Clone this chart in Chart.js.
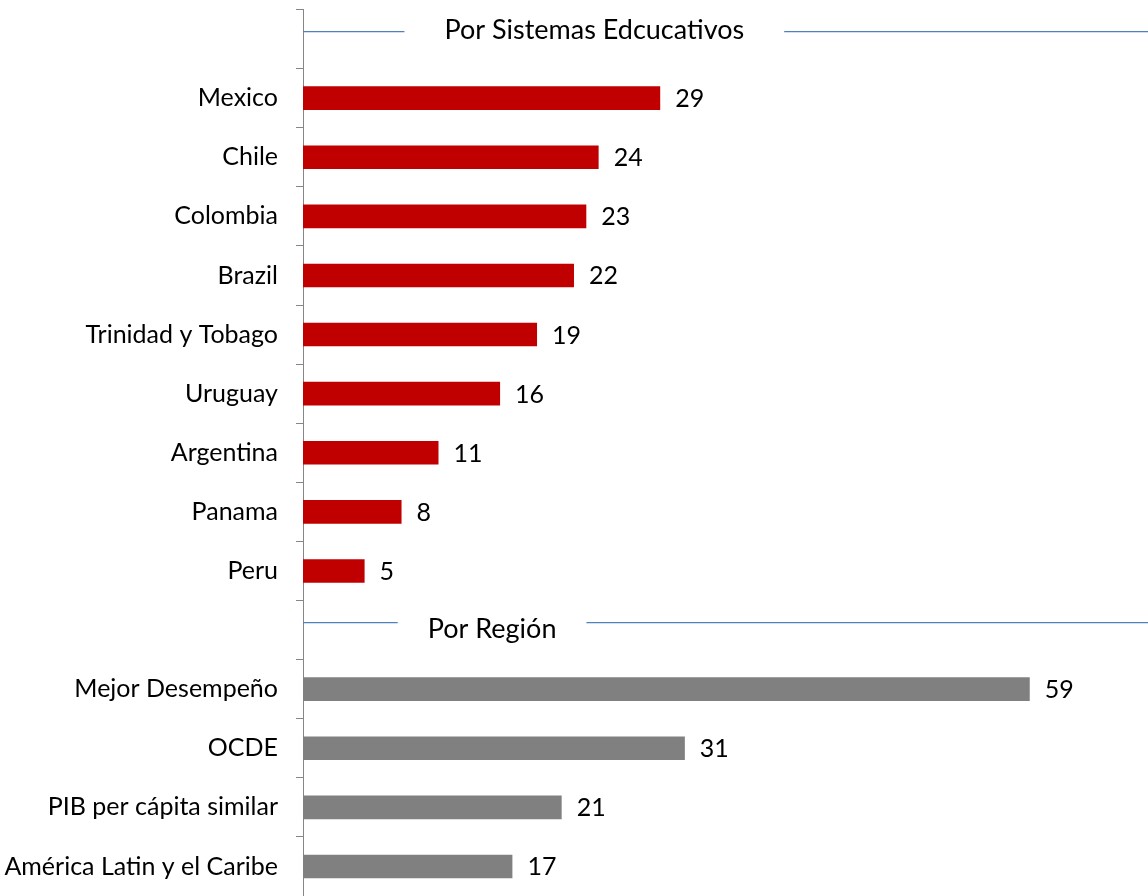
<!DOCTYPE html>
<html>
<head>
<meta charset="utf-8">
<script src="https://cdn.jsdelivr.net/npm/chart.js@4/dist/chart.umd.min.js"></script>
<style>
  html, body { margin: 0; padding: 0; background: #ffffff; overflow: hidden; }
  #wrap { width: 1148px; height: 896px; position: relative; }
  canvas { display: block; }
</style>
</head>
<body>
<div id="wrap"><canvas id="chart" width="1148" height="896"></canvas></div>
<script>
// Section titles
const groupTitles = ['Por Sistemas Edcucativos', 'Por Región'];

// Education systems
const countries = ['Mexico', 'Chile', 'Colombia', 'Brazil', 'Trinidad y Tobago', 'Uruguay', 'Argentina', 'Panama', 'Peru'];
const countryValues = [29, 24, 23, 22, 19, 16, 11, 8, 5];

// Regional comparison groups
const regions = ['Mejor Desempeño', 'OCDE', 'PIB per cápita similar', 'América Latin y el Caribe'];
const regionValues = [59, 31, 21, 17];

// One empty row in front of each section carries its title
const labels = [''].concat(countries, [''], regions);
const countrySeries = [null].concat(countryValues, [null], regions.map(() => null));
const regionSeries = [null].concat(countries.map(() => null), [null], regionValues);
const headerRows = [0, countries.length + 1];

const FONT = 'Lato, "Open Sans", sans-serif';
const FONT_SIZE = 25;
const TITLE_SIZE = 27;

// Titles with a thin rule on either side
const sectionHeaders = {
  id: 'sectionHeaders',
  afterDatasetsDraw(chart, args, opts) {
    const { ctx, chartArea } = chart;
    const xs = chart.scales.x, ys = chart.scales.y;
    ctx.save();
    ctx.font = TITLE_SIZE + 'px ' + FONT;
    ctx.fillStyle = '#000000';
    ctx.textAlign = 'center';
    ctx.textBaseline = 'alphabetic';
    opts.items.forEach((it, i) => {
      const row = headerRows[i];
      const yc = ys.getPixelForValue(row);
      const tx = xs.getPixelForValue(it.center);
      const w = ctx.measureText(groupTitles[i]).width;
      const ly = Math.round(yc + it.lineDy) + 0.5;
      ctx.strokeStyle = '#4F81BD';
      ctx.lineWidth = 1.25;
      ctx.beginPath();
      ctx.moveTo(chartArea.left, ly);
      ctx.lineTo(tx - w / 2 - it.gap, ly);
      ctx.moveTo(tx + w / 2 + it.gap, ly);
      ctx.lineTo(chartArea.right, ly);
      ctx.stroke();
      ctx.fillText(groupTitles[i], tx, yc + it.textDy);
    });
    ctx.restore();
  }
};

// Value printed just past the end of each bar
const barValues = {
  id: 'barValues',
  afterDatasetsDraw(chart, args, opts) {
    const { ctx } = chart;
    ctx.save();
    ctx.font = FONT_SIZE + 'px ' + FONT;
    ctx.fillStyle = '#000000';
    ctx.textAlign = 'left';
    ctx.textBaseline = 'alphabetic';
    chart.data.datasets.forEach((ds, di) => {
      const meta = chart.getDatasetMeta(di);
      meta.data.forEach((bar, i) => {
        const v = ds.data[i];
        if (v === null || v === undefined) return;
        ctx.fillText(String(v), bar.x + opts.offset, bar.y + opts.dy);
      });
    });
    ctx.restore();
  }
};

new Chart(document.getElementById('chart'), {
  type: 'bar',
  data: {
    labels: labels,
    datasets: [
      {
        label: groupTitles[0],
        data: countrySeries,
        backgroundColor: '#C00000',
        borderWidth: 0,
        barPercentage: 0.4,
        categoryPercentage: 1
      },
      {
        label: groupTitles[1],
        data: regionSeries,
        backgroundColor: '#808080',
        borderWidth: 0,
        barPercentage: 0.4,
        categoryPercentage: 1
      }
    ]
  },
  options: {
    indexAxis: 'y',
    responsive: false,
    maintainAspectRatio: false,
    animation: false,
    devicePixelRatio: 1,
    layout: { padding: { top: 9.5, right: 0, bottom: 0, left: 0 } },
    datasets: { bar: { grouped: false } },
    plugins: {
      legend: { display: false },
      tooltip: { enabled: false },
      title: { display: false },
      sectionHeaders: {
        items: [
          { center: 23.65, gap: 40, lineDy: -8, textDy: 0 },
          { center: 15.35, gap: 30, lineDy: -8, textDy: 8 }
        ]
      },
      barValues: { offset: 15, dy: 9 }
    },
    scales: {
      x: {
        display: false,
        min: 0,
        max: 68.6
      },
      y: {
        type: 'category',
        offset: true,
        afterFit(scale) {
          scale.width = 303;
          scale.paddingTop = 0;
          scale.paddingBottom = 0;
        },
        grid: {
          offset: true,
          drawOnChartArea: false,
          drawTicks: true,
          tickLength: 7,
          color: '#868686',
          lineWidth: 1
        },
        border: { display: true, color: '#868686', width: 1 },
        ticks: {
          padding: 18,
          color: '#000000',
          autoSkip: false,
          font: { family: FONT, size: FONT_SIZE }
        }
      }
    }
  },
  plugins: [sectionHeaders, barValues]
});
</script>
</body>
</html>
